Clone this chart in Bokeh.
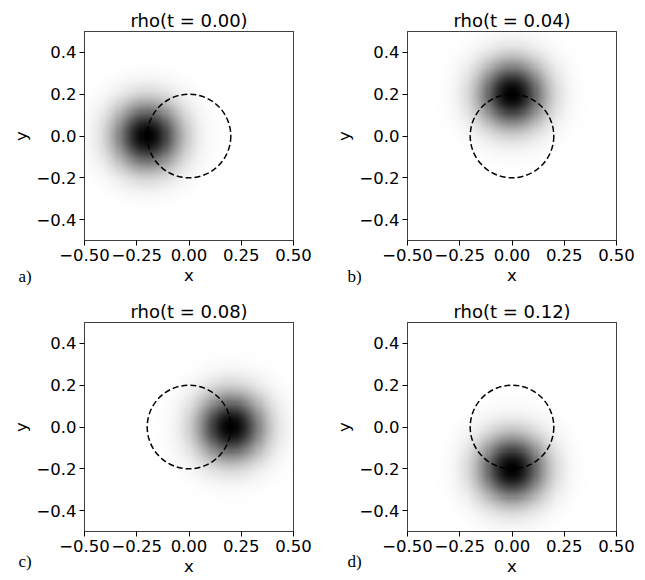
import numpy as np
from bokeh.plotting import figure
from bokeh.layouts import gridplot
from bokeh.models import Title, CustomJSTickFormatter, FixedTicker
from bokeh.palettes import Greys256
from bokeh.embed import file_html
from bokeh.resources import INLINE

# --- data ---
times = [0.00, 0.04, 0.08, 0.12]
centers_x = [-0.2, 0.0, 0.2, 0.0]
centers_y = [0.0, 0.2, 0.0, -0.2]
blob_sigma = 0.11
circle_radius = 0.2
panel_tags = ["a)", "b)", "c)", "d)"]
x_ticks = [-0.5, -0.25, 0.0, 0.25, 0.5]
y_ticks = [-0.4, -0.2, 0.0, 0.2, 0.4]

N = 100
grid = (np.arange(N) + 0.5) / N - 0.5
GX, GY = np.meshgrid(grid, grid)

palette = list(reversed(Greys256))  # gray_r: white (low) -> black (high)

FONT = "DejaVu Sans"

# per-panel layout (borders in px, tag offsets in px)
layouts = [
    dict(width=320, height=290, left=84, right=27, top=31, bottom=50, tagx=-66, tagsd=-42),
    dict(width=325, height=290, left=87, right=29, top=31, bottom=50, tagx=-60, tagsd=-42),
    dict(width=320, height=290, left=84, right=27, top=32, bottom=49, tagx=-66, tagsd=-54),
    dict(width=325, height=290, left=87, right=29, top=32, bottom=49, tagx=-60, tagsd=-54),
]

figs = []
for i in range(4):
    L = layouts[i]
    p = figure(width=L["width"], height=L["height"], x_range=(-0.5, 0.5), y_range=(-0.5, 0.5),
               output_backend="svg", toolbar_location=None,
               min_border_left=L["left"], min_border_right=L["right"],
               min_border_top=L["top"], min_border_bottom=L["bottom"],
               title=f"rho(t = {times[i]:.2f})")
    p.title.align = "center"
    p.title.text_font = FONT
    p.title.text_font_size = "18px"
    p.title.text_font_style = "normal"
    p.title.text_color = "black"
    p.title.standoff = 2

    rho = np.exp(-((GX - centers_x[i]) ** 2 + (GY - centers_y[i]) ** 2) / (2 * blob_sigma ** 2))
    p.image(image=[rho], x=-0.5, y=-0.5, dw=1, dh=1, palette=palette, level="image")

    p.circle(x=[0.0], y=[0.0], radius=circle_radius, fill_color=None,
             line_color="black", line_width=1.5, line_dash="6 3")

    p.grid.visible = False
    p.outline_line_color = "black"
    p.outline_line_width = 1
    p.outline_line_alpha = 1

    p.xaxis.ticker = FixedTicker(ticks=x_ticks)
    p.yaxis.ticker = FixedTicker(ticks=y_ticks)
    p.xaxis.formatter = CustomJSTickFormatter(code="return tick.toFixed(2).replace('-', '\u2212');")
    p.yaxis.formatter = CustomJSTickFormatter(code="return tick.toFixed(1).replace('-', '\u2212');")
    p.xaxis.axis_label = "x"
    p.yaxis.axis_label = "y"
    for ax in (p.xaxis, p.yaxis):
        ax.axis_line_color = None
        ax.major_tick_line_color = "black"
        ax.major_tick_out = 5
        ax.major_tick_in = 0
        ax.minor_tick_line_color = None
        ax.major_label_text_font = FONT
        ax.major_label_text_font_size = "16.5px"
        ax.major_label_text_color = "black"
        ax.major_label_standoff = 3
        ax.axis_label_text_font = FONT
        ax.axis_label_text_font_size = "16.5px"
        ax.axis_label_text_font_style = "normal"
        ax.axis_label_text_color = "black"
        ax.axis_label_standoff = 2

    # panel tag as a side-panel title (side panels are not clipped to the frame)
    tag = Title(text=panel_tags[i], align="left", offset=L["tagx"],
                vertical_align="top", standoff=L["tagsd"],
                text_font="Liberation Serif", text_font_size="17px",
                text_font_style="normal", text_color="black")
    p.add_layout(tag, "below")
    figs.append(p)

layout = gridplot([[figs[0], figs[1]], [figs[2], figs[3]]], toolbar_location=None)

open("out.html", "w").write(file_html(layout, INLINE))
